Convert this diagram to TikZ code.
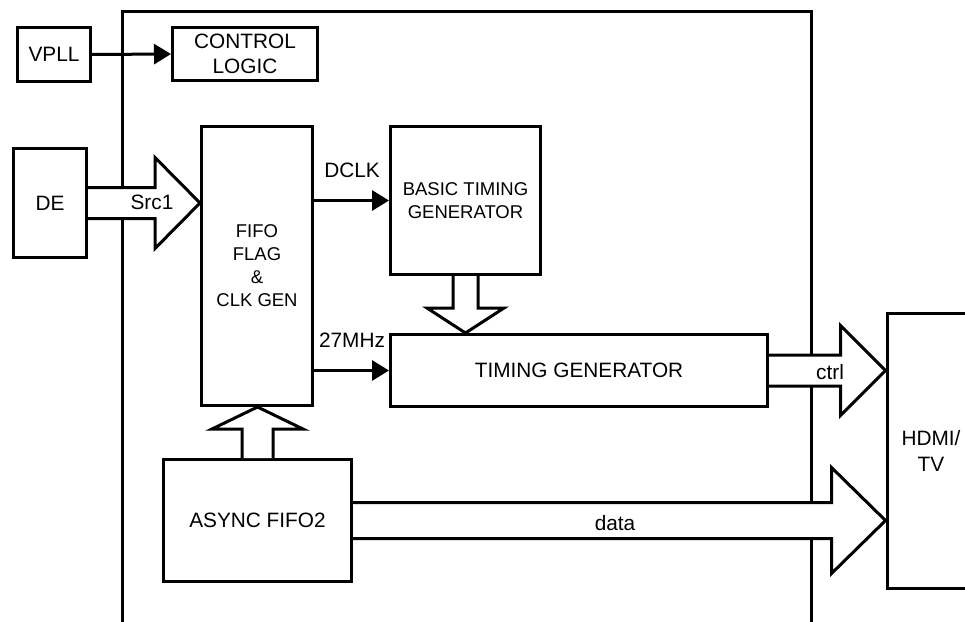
\documentclass[tikz,border=0pt]{standalone}
\usepackage{fontspec}
\setmainfont{Liberation Sans}
\usetikzlibrary{arrows.meta, positioning, calc}

\tikzset{
  blk/.style={draw, line width=3pt, inner sep=2pt, align=center,
    font=\fontsize{20.8}{25.5}\selectfont},
  blksmall/.style={blk, font=\fontsize{18.5}{23}\selectfont},
  sig/.style={line width=3pt, -{Triangle[length=17pt, width=20pt]}},
  fatarrow/.style={draw=black, fill=white, line width=3pt, line join=miter},
  lbl/.style={font=\fontsize{20.8}{25}\selectfont, inner sep=0pt}
}

% fat outline arrow: [style] start, end, shaft half, head half, head length
\newcommand{\fatarrow}[6][]{%
  \coordinate (fa-s) at (#2);
  \coordinate (fa-e) at (#3);
  \coordinate (fa-b) at ($(fa-e)!#6!(fa-s)$);
  \filldraw[fatarrow, #1] ($(fa-s)!#4!90:(fa-e)$) -- ($(fa-b)!#4!-90:(fa-s)$)
    -- ($(fa-b)!#5!-90:(fa-s)$) -- (fa-e) -- ($(fa-b)!#5!90:(fa-s)$)
    -- ($(fa-b)!#4!90:(fa-s)$) -- ($(fa-s)!#4!-90:(fa-e)$);
}

\begin{document}
\begin{tikzpicture}[x=1pt, y=-1pt]
  \useasboundingbox (0,0) rectangle (965,621);
  % Outer frame (open at the bottom)
  \draw[line width=3pt] (122,625) -- (122,11) -- (811,11) -- (811,625);
  % Blocks
  \node[blk, minimum width=73pt, minimum height=54pt] (vpll) at (54,54.5) {VPLL};
  \node[blk, minimum width=145pt, minimum height=53pt] (ctl) at (245,54) {CONTROL\\LOGIC};
  \node[blk, minimum width=73pt, minimum height=109pt] (de) at (50,203) {DE};
  \node[blksmall, minimum width=111pt, minimum height=279pt] (fifo) at (257,266)
    {FIFO\\FLAG\\\&\\CLK GEN};
  \node[blksmall, minimum width=150pt, minimum height=148pt] (btg) at (465.5,200.5)
    {BASIC TIMING\\GENERATOR};
  \node[blk, minimum width=377pt, minimum height=72pt] (tg) at (579,370.5) {TIMING GENERATOR};
  \node[blk, minimum width=188pt, minimum height=122pt] (async) at (257.5,520.5) {ASYNC FIFO2};
  \node[blk, minimum width=88pt, minimum height=275pt] (hdmi) at (931,451) {HDMI/\\TV};
  % Thin signals
  \draw[sig] (vpll.east) -- (ctl.west);
  \draw[sig] (fifo.east |- btg.west) -- (btg.west);
  \draw[sig] (fifo.east |- tg.west) -- (tg.west);
  \node[lbl] (dclk) at (352,170) {DCLK};
  \node[lbl] (mhz) at (352,340) {27MHz};
  % Wide buses
  \fatarrow{de.east}{fifo.west |- de.east}{15.5pt}{45.5pt}{45pt}
  \node[lbl] (src) at (152,202) {Src1};
  \fatarrow{btg.south}{btg.south |- tg.north}{12.5pt}{38.5pt}{25pt}
  \fatarrow{async.north}{async.north |- fifo.south}{15.5pt}{45.5pt}{22pt}
  \fatarrow{tg.east}{hdmi.west |- tg.east}{15.5pt}{45pt}{45pt}
  \node[lbl] (ctrl) at (830,372) {ctrl};
  \fatarrow{async.east}{hdmi.west |- async.east}{18pt}{53pt}{54pt}
  \node[lbl] (data) at (615,523) {data};
\end{tikzpicture}
\end{document}
